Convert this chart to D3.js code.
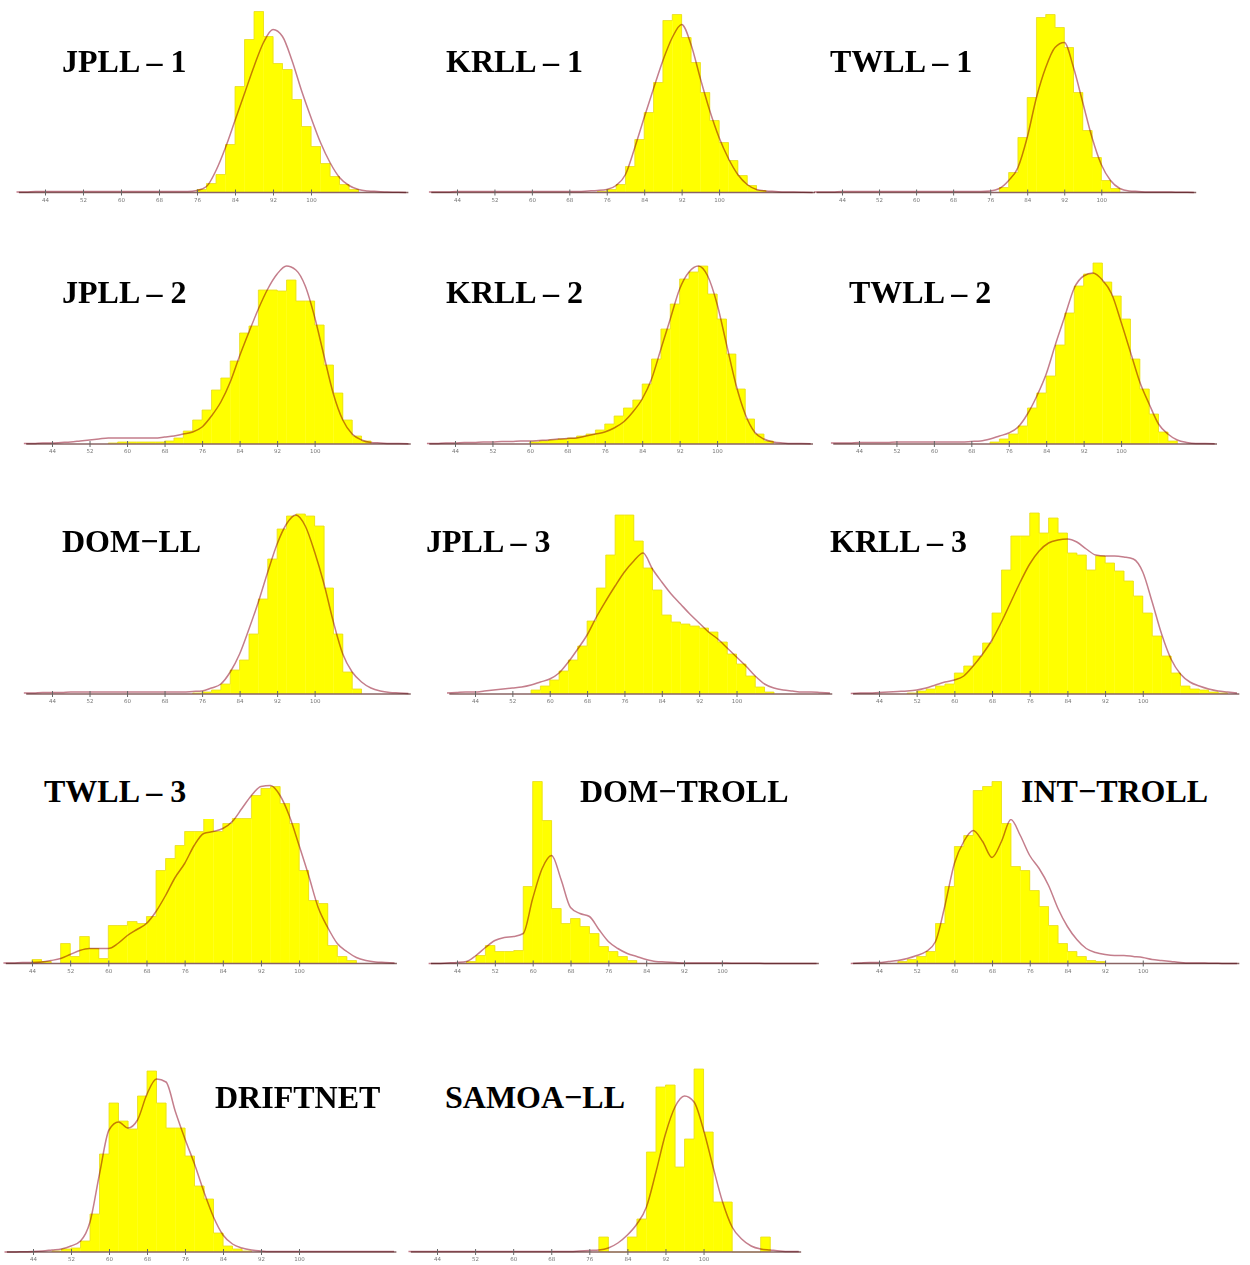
<!DOCTYPE html>
<html lang="en">
<head>
<meta charset="UTF-8">
<title>Length frequency distributions by fishery</title>
<script src="https://d3js.org/d3.v7.min.js"></script>
<style>
    body { margin: 0; background: #fff; }
    .title { font-family: "Liberation Serif", "Times New Roman", serif; font-weight: bold; font-size: 32px; fill: #000; }
    .tick text { font-family: "DejaVu Sans", sans-serif; font-size: 5.5px; fill: #777; }
    .tick line { stroke: #666; }
    .fit { fill: none; stroke: #c47e8c; stroke-width: 1.5; mix-blend-mode: multiply; }
</style>
</head>
<body>
<svg id="chart" width="1250" height="1265"></svg>
<script>
// tick labels and grids
const tickValues = [44, 52, 60, 68, 76, 84, 92, 100];
const curveX = d3.range(38, 121, 2);   // x of the fitted curve samples
const binWidth = 2;

const titles = ["JPLL \u2013 1", "KRLL \u2013 1", "TWLL \u2013 1",
                "JPLL \u2013 2", "KRLL \u2013 2", "TWLL \u2013 2",
                "DOM\u2212LL", "JPLL \u2013 3", "KRLL \u2013 3",
                "TWLL \u2013 3", "DOM\u2212TROLL", "INT\u2212TROLL",
                "DRIFTNET", "SAMOA\u2212LL"];

// observed histograms (first bin start, then bin heights)
const jpll1Start = 76;
const jpll1Bins = [3, 9, 18, 48, 106, 153, 181, 156, 129, 123, 93, 66, 46, 29, 16, 8, 3];
const krll1Start = 74;
const krll1Bins = [1, 3, 8, 26, 53, 80, 110, 172, 178, 155, 130, 100, 72, 50, 32, 17, 7, 2];
const twll1Start = 78;
const twll1Bins = [5, 20, 55, 95, 175, 178, 165, 145, 100, 62, 35, 12, 4];
const jpll2Start = 56;
const jpll2Bins = [1, 2, 2, 2, 2, 2, 3, 6, 13, 24, 34, 54, 66, 83, 111, 118, 154, 154, 153, 164, 143, 143, 119, 79, 51, 24, 8, 3];
const krll2Start = 60;
const krll2Bins = [2, 3, 4, 5, 6, 8, 10, 14, 20, 28, 36, 44, 60, 85, 115, 140, 165, 172, 178, 150, 125, 90, 55, 25, 10, 3];
const twll2Start = 72;
const twll2Bins = [2, 5, 10, 18, 36, 51, 68, 99, 131, 158, 170, 181, 162, 148, 125, 85, 55, 30, 12, 3];
const domllStart = 74;
const domllBins = [1, 2, 4, 10, 24, 34, 60, 95, 135, 165, 178, 180, 178, 168, 106, 60, 22, 5];
const jpll3Start = 56;
const jpll3Bins = [4, 8, 14, 23, 34, 48, 73, 106, 139, 179, 179, 153, 126, 104, 79, 72, 70, 68, 66, 62, 52, 40, 30, 18, 7, 2];
const krll3Start = 50;
const krll3Bins = [1, 3, 5, 8, 10, 21, 28, 38, 51, 81, 124, 158, 158, 181, 161, 176, 161, 141, 139, 124, 138, 131, 123, 113, 98, 81, 58, 38, 21, 8, 5, 4, 2, 1];
const twll3Start = 44;
const twll3Bins = [4, 2, 0, 20, 7, 27, 15, 5, 38, 38, 42, 40, 47, 93, 105, 118, 132, 132, 147, 132, 140, 145, 145, 168, 175, 177, 160, 140, 93, 63, 60, 18, 7, 3];
const domtrollStart = 46;
const domtrollBins = [2, 8, 18, 12, 12, 13, 77, 182, 143, 55, 40, 45, 37, 30, 17, 12, 7, 3];
const inttrollStart = 48;
const inttrollBins = [2, 4, 7, 12, 40, 77, 117, 128, 173, 177, 182, 140, 97, 93, 73, 57, 38, 20, 12, 7, 3, 2];
const driftnetStart = 48;
const driftnetBins = [1, 3, 4, 11, 38, 98, 149, 131, 123, 156, 181, 149, 124, 124, 96, 66, 53, 19, 6, 3, 1];
const samoaStart = 78;
const samoaBins = [15, 0, 0, 15, 33, 100, 165, 167, 85, 113, 183, 120, 50, 50, 0, 0, 0, 15];

// fitted curves, sampled at curveX
const jpll1Curve = [0.5,0.5,1,1,1,1,1,1,1,1, 1,1,1,1,1,1,1,1,1,2, 6,22,45,72,99,126,150,163,156,132, 102,75,50,30,15,7,3,1.5,1,0.5, 0.3,0];
const krll1Curve = [0.5,0.5,0.5,1,1,1,1,1,1,1, 1,1,1,1,1,1,1,1.5,2,3, 7,18,45,75,104,132,155,168,148,114, 82,55,34,18,8,3,1.5,1,0.5,0.5, 0.3,0];
const twll1Curve = [0.5,0.5,0.5,1,1,1,1,1,1,1, 1,1,1,1,1,1,1,1,1,1.5, 4,12,25,55,95,125,145,150,125,90, 55,28,12,4,1.5,1,0.5,0.5,0.5,0.3, 0.2,0];
const jpll2Curve = [0.5,0.5,1,1,1.5,2,3,4,5,6, 6,6,6,6,6,7,8,10,12,17, 28,42,62,88,112,135,155,170,178,174, 158,127,88,50,24,10,4,1.5,1,0.5, 0.5,0.3];
const krll2Curve = [0.5,0.5,1,1,1.5,1.5,2,2,2.5,2.5, 3,3,3.5,4,5,5.5,6,8,10,12, 16,22,32,45,65,95,125,155,172,178, 168,140,100,60,30,12,5,2,1,0.5, 0.5,0.3];
const twll2Curve = [1,1,1,1.5,1.5,1.5,1.5,2,2,2, 2,2,2,2,2,2.5,3,5,8,11, 17,30,48,70,100,128,156,168,171,164, 150,122,92,62,40,20,10,4,1.5,0.5, 0.5,0.3];
const domllCurve = [1,1,1.5,1.5,1.5,2,2,2,2,2, 2,2,2,2,2,2,2,2,2.5,3, 6,10,22,40,65,92,122,150,170,179, 168,142,110,72,40,22,12,6,3,1.5, 1,0.5];
const jpll3Curve = [1,1.5,2,2,3,4,5,6,7,9, 12,15,21,32,45,59,77,93,108,122, 133,141,125,112,100,90,80,71,62,55, 46,37,28,18,10,6,4,3,2,2, 1.5,1];
const krll3Curve = [0.5,1,1,1.5,2,2.5,3,4,6,9, 12,14,18,28,40,54,72,92,112,130, 143,151,154,155,152,145,139,138,138,137, 135,122,92,60,35,20,12,8,5,3, 2,1];
const twll3Curve = [0.5,0.5,1,1,1.5,3,5,9,13,15, 15,15,20,28,34,40,52,68,86,100, 118,130,132,135,142,155,168,177,178,168, 147,118,88,56,36,20,12,6,3,1.5, 1,0.5];
const domtrollCurve = [0,0,0.5,1,2,8,16,23,26,27, 30,65,95,108,84,56,50,47,34,22, 15,10,7,4,2,1.5,1,0.5,0.5,0.5, 0.5,0.5,0.3,0.3,0.2,0.2,0,0,0,0, 0,0];
const inttrollCurve = [0,0.5,1,1,2,3,5,8,12,22, 58,100,122,133,122,106,122,144,128,108, 95,78,55,37,24,15,11,9,8,8, 7,6,4,3,2,1,0.5,0.5,0.3,0.2, 0,0];
const driftnetCurve = [0,0,0.3,0.5,1,2,3,6,11,30, 78,122,130,124,132,158,173,170,140,113, 88,60,35,17,8,4,2,1,0.5,0.5, 0.5,0.5,0.5,0.5,0.5,0.5,0.5,0.5,0.5,0.5, 0.5,0.5];
const samoaCurve = [0.5,0.5,0.5,0.5,0.5,0.5,0.5,0.5,0.5,0.5, 0.5,0.5,0.5,0.5,0.5,0.5,0.5,0.5,1,1.5, 2,4,9,17,28,45,80,118,145,156, 150,122,85,50,25,13,6,3,2,1, 0.5,0.5];

// panel layout: x of value 44, px per unit, baseline, title position
const panels = [
    {title: titles[0],  start: jpll1Start,    bins: jpll1Bins,    curve: jpll1Curve,    x44: 45,  k: 4.75, base: 192.5, tx: 62,   ty: 72},
    {title: titles[1],  start: krll1Start,    bins: krll1Bins,    curve: krll1Curve,    x44: 457, k: 4.68, base: 192.5, tx: 446,  ty: 72},
    {title: titles[2],  start: twll1Start,    bins: twll1Bins,    curve: twll1Curve,    x44: 842, k: 4.63, base: 192.5, tx: 830,  ty: 72},
    {title: titles[3],  start: jpll2Start,    bins: jpll2Bins,    curve: jpll2Curve,    x44: 52,  k: 4.69, base: 444,   tx: 62,   ty: 303},
    {title: titles[4],  start: krll2Start,    bins: krll2Bins,    curve: krll2Curve,    x44: 455, k: 4.68, base: 444,   tx: 446,  ty: 303},
    {title: titles[5],  start: twll2Start,    bins: twll2Bins,    curve: twll2Curve,    x44: 859, k: 4.68, base: 444,   tx: 849,  ty: 303},
    {title: titles[6],  start: domllStart,    bins: domllBins,    curve: domllCurve,    x44: 52,  k: 4.69, base: 694,   tx: 62,   ty: 552},
    {title: titles[7],  start: jpll3Start,    bins: jpll3Bins,    curve: jpll3Curve,    x44: 475, k: 4.67, base: 694,   tx: 426,  ty: 552},
    {title: titles[8],  start: krll3Start,    bins: krll3Bins,    curve: krll3Curve,    x44: 879, k: 4.71, base: 694,   tx: 830,  ty: 552},
    {title: titles[9],  start: twll3Start,    bins: twll3Bins,    curve: twll3Curve,    x44: 32,  k: 4.77, base: 963.5, tx: 44,   ty: 802, box: true},
    {title: titles[10], start: domtrollStart, bins: domtrollBins, curve: domtrollCurve, x44: 457, k: 4.73, base: 963.5, tx: 580,  ty: 802},
    {title: titles[11], start: inttrollStart, bins: inttrollBins, curve: inttrollCurve, x44: 879, k: 4.71, base: 963.5, tx: 1021, ty: 802, box: true},
    {title: titles[12], start: driftnetStart, bins: driftnetBins, curve: driftnetCurve, x44: 33,  k: 4.75, base: 1252,  tx: 215,  ty: 1108},
    {title: titles[13], start: samoaStart,    bins: samoaBins,    curve: samoaCurve,    x44: 437, k: 4.76, base: 1252,  tx: 445,  ty: 1108, box: true}
];

const svg = d3.select("#chart");
const plotH = 183;

panels.forEach(p => {
    const g = svg.append("g");

    const x = d3.scaleLinear()
        .domain([44, 100])
        .range([p.x44, p.x44 + 56 * p.k]);

    const y = d3.scaleLinear()
        .domain([0, 183])
        .range([p.base, p.base - plotH]);

    const bins = p.bins.map((v, i) => ({x0: p.start + i * binWidth, v: v}));

    // histogram bars
    g.selectAll("rect.bar")
        .data(bins.filter(d => d.v > 0))
        .enter().append("rect")
        .attr("class", "bar")
        .attr("x", d => x(d.x0))
        .attr("width", d => x(d.x0 + binWidth) - x(d.x0) + 0.3)
        .attr("y", d => y(d.v))
        .attr("height", d => y(0) - y(d.v))
        .attr("fill", "#ffff00");

    // faint stepped outline of the histogram
    const steps = [[p.start, 0]];
    bins.forEach(d => { steps.push([d.x0, d.v], [d.x0 + binWidth, d.v]); });
    steps.push([p.start + bins.length * binWidth, 0]);
    g.append("path")
        .attr("d", d3.line().x(d => x(d[0])).y(d => y(d[1]))(steps))
        .attr("fill", "none")
        .attr("stroke", "#e8dc20")
        .attr("stroke-width", 0.8);

    // axis line
    g.append("line")
        .attr("x1", x(38.5)).attr("x2", x(120.5))
        .attr("y1", p.base).attr("y2", p.base)
        .attr("stroke", "#8a6464")
        .attr("stroke-width", 1.6);

    // fitted curve
    const line = d3.line()
        .x((d, i) => x(curveX[i]))
        .y(d => y(d))
        .curve(d3.curveMonotoneX);

    g.append("path")
        .attr("class", "fit")
        .attr("d", line(p.curve));

    // ticks
    const axis = g.append("g")
        .attr("transform", `translate(0,${p.base})`)
        .call(d3.axisBottom(x).tickValues(tickValues).tickSize(3).tickPadding(2.5));
    axis.select(".domain").remove();
    axis.selectAll(".tick line").attr("y1", -3);

    // title (some sit on a white box covering the bars)
    const t = g.append("text")
        .attr("class", "title")
        .attr("x", p.tx)
        .attr("y", p.ty)
        .text(p.title);
    if (p.box) {
        const bb = t.node().getBBox();
        g.insert("rect", "text.title")
            .attr("x", bb.x - 18)
            .attr("y", bb.y - 10)
            .attr("width", bb.width + 48)
            .attr("height", bb.height + 20)
            .attr("fill", "#fff");
    }
});
</script>
</body>
</html>
